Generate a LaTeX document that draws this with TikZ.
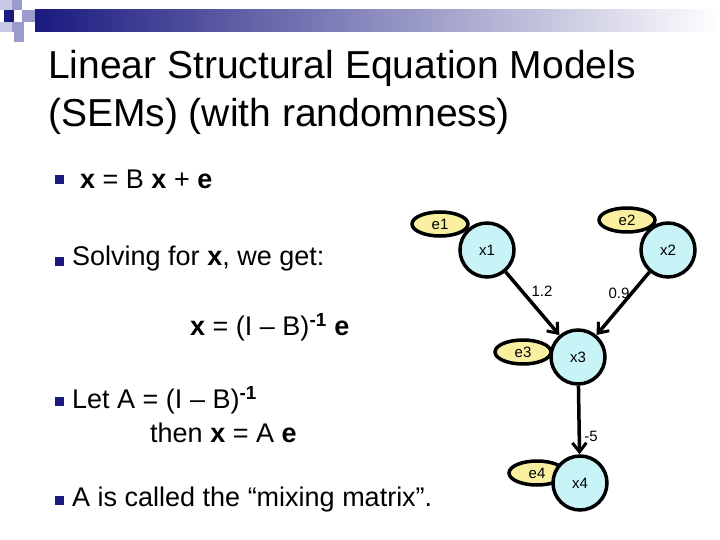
\documentclass[tikz,border=0pt]{standalone}
\usepackage{fontspec}
\setmainfont{Liberation Sans}
\usetikzlibrary{shapes.geometric,arrows.meta}
\definecolor{navy}{HTML}{1A1A80}
\definecolor{sqa}{HTML}{9A9ACC}
\definecolor{sqb}{HTML}{C8C8E4}
\definecolor{cyanf}{HTML}{C8F4F8}
\definecolor{yelf}{HTML}{F8F0A0}
\tikzset{
  var/.style={circle,draw=black,line width=3.5pt,fill=cyanf,minimum size=54pt,inner sep=0pt,font=\fontsize{15}{17}\selectfont},
  err/.style={ellipse,draw=black,line width=3.5pt,fill=yelf,minimum width=56pt,minimum height=24pt,inner sep=0pt,font=\fontsize{15}{17}\selectfont},
  edge/.style={line width=3.5pt,-{Straight Barb[length=9pt,width=14pt,line width=3pt]}},
  wl/.style={font=\fontsize{15}{17}\selectfont},
  body/.style={anchor=west,font=\fontsize{27}{31}\selectfont,inner sep=0pt},
  bul/.style={fill=navy,minimum size=9pt,inner sep=0pt}
}
\begin{document}
\begin{tikzpicture}[x=1pt,y=-1pt]
\useasboundingbox (0,0) rectangle (720,540);
\fill[white] (0,0) rectangle (720,540);
% banner
\shade[left color=navy,right color=white] (35,10) rectangle (720,32);
\fill[sqb] (0,0) rectangle (12,10);
\fill[sqa] (12,0) rectangle (22,10);
\fill[navy] (4,10) rectangle (14,22);
\fill[sqa] (22,10) rectangle (35,22);
\fill[sqb] (0,22) rectangle (12,32);
\fill[sqa] (12,22) rectangle (24,32);
\fill[sqa] (14,32) rectangle (24,42);
% title
\node[anchor=west,inner sep=0pt,font=\fontsize{39}{44}\selectfont] (t1) at (48,68) {Linear Structural Equation Models};
\node[anchor=west,inner sep=0pt,font=\fontsize{39}{44}\selectfont] (t2) at (48,116) {(SEMs) (with randomness)};
% bullets
\node[bul] (b1) at (59,180) {};
\node[bul] (b2) at (59,261) {};
\node[bul] (b3) at (59,401) {};
\node[bul] (b4) at (59,500) {};
\node[body] (l1) at (80,179) {\textbf{x} = B \textbf{x} + \textbf{e}};
\node[body] (l2) at (72,259) {Solving for \textbf{x}, we get:};
\node[body] (l3) at (190,327) {\textbf{x} = (I – B)\textsuperscript{\textbf{-1}} \textbf{e}};
\node[body] (l4) at (72,400) {Let A = (I – B)\textsuperscript{\textbf{-1}}};
\node[body] (l5) at (150,433) {then \textbf{x} = A \textbf{e}};
\node[body] (l6) at (72,500) {A is called the “mixing matrix”.};
% graph
\node[err] (e1) at (440,224) {e1};
\node[err] (e2) at (627,220) {e2};
\node[var] (x1) at (487,250) {x1};
\node[var] (x2) at (668,250) {x2};
\node[err] (e3) at (523,352) {e3};
\node[var] (x3) at (578,357) {x3};
\node[err] (e4) at (537,473) {e4};
\node[var] (x4) at (580,483) {x4};
\draw[edge] (x1) -- (x3);
\draw[edge] (x2) -- (x3);
\draw[edge] (x3) -- (x4);
\node[wl] (w1) at (542,291) {1.2};
\node[wl] (w2) at (619,293) {0.9};
\node[wl] (w3) at (591,436) {-5};
\end{tikzpicture}
\end{document}
